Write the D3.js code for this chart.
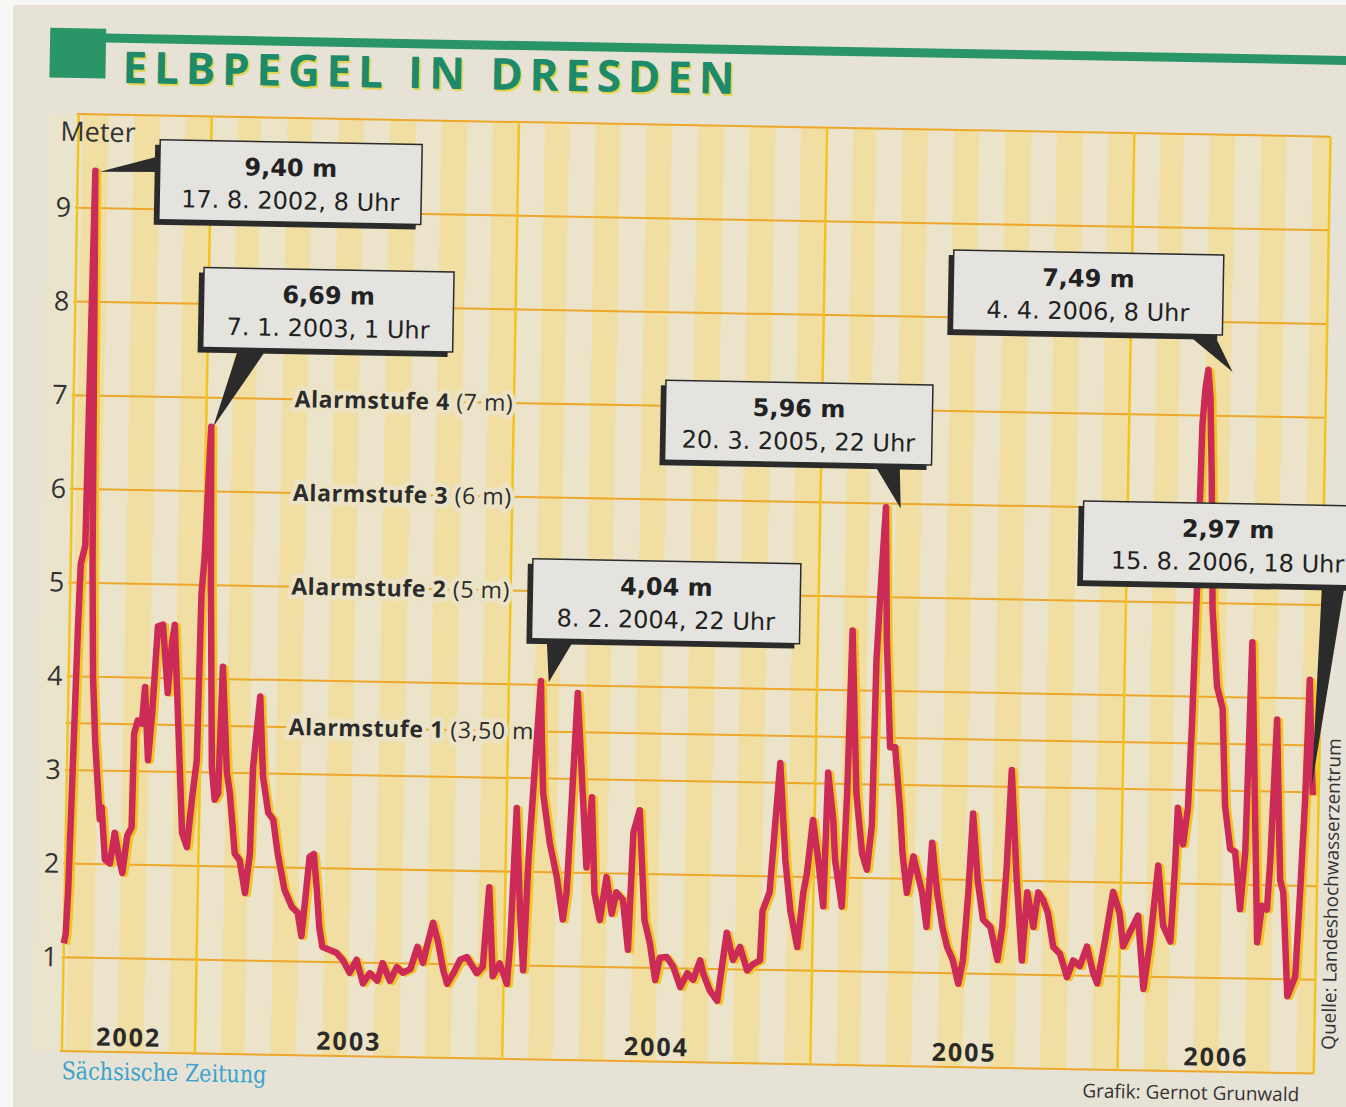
<!DOCTYPE html>
<html>
<head>
<meta charset="utf-8">
<script src="https://cdn.jsdelivr.net/npm/d3@7"></script>
<style>
body { margin: 0; background: #fff; }
svg { display: block; font-family: "Open Sans", sans-serif; }
</style>
</head>
<body>
<svg id="chart" width="1346" height="1107"></svg>
<script>
// Elbpegel Dresden, Juli 2002 - August 2006
var rangeStart = "2002-07-27";
var rangeEnd = "2006-08-22";

var dates = [
  "2002-07-27","2002-07-29","2002-07-31","2002-08-03","2002-08-06","2002-08-08","2002-08-13","2002-08-17","2002-08-22","2002-08-25","2002-08-29","2002-09-05","2002-09-07","2002-09-12","2002-09-18","2002-09-23","2002-09-29","2002-10-03","2002-10-08","2002-10-13","2002-10-14","2002-10-18","2002-10-23","2002-10-26","2002-10-31","2002-11-04","2002-11-09","2002-11-15","2002-11-22","2002-11-26","2002-11-29","2002-12-04","2002-12-12","2002-12-18","2002-12-23","2002-12-28","2002-12-30",
  "2003-01-02","2003-01-07","2003-01-10","2003-01-15","2003-01-19","2003-01-23","2003-01-26","2003-02-02","2003-02-06","2003-02-13","2003-02-19","2003-02-26","2003-03-03","2003-03-05","2003-03-12","2003-03-17","2003-03-24","2003-03-30","2003-04-05","2003-04-14","2003-04-23","2003-04-30","2003-05-05","2003-05-08","2003-05-13","2003-05-18","2003-05-22","2003-05-26","2003-05-30","2003-06-08","2003-06-16","2003-06-24","2003-07-02","2003-07-10","2003-07-18","2003-07-26","2003-08-04","2003-08-10","2003-08-19","2003-08-27","2003-09-03","2003-09-12","2003-09-20","2003-09-27","2003-10-01","2003-10-08","2003-10-14","2003-10-21","2003-10-26","2003-11-02","2003-11-10","2003-11-18","2003-11-22","2003-11-30","2003-12-07","2003-12-13","2003-12-19","2003-12-27",
  "2004-01-05","2004-01-08","2004-01-13","2004-01-19","2004-01-24","2004-01-28","2004-02-01","2004-02-08","2004-02-10","2004-02-13","2004-02-22","2004-03-02","2004-03-10","2004-03-14","2004-03-23","2004-03-31","2004-04-06","2004-04-11","2004-04-16","2004-04-23","2004-04-30","2004-05-07","2004-05-12","2004-05-20","2004-05-27","2004-05-31","2004-06-07","2004-06-15","2004-06-22","2004-06-29","2004-07-04","2004-07-12","2004-07-20","2004-07-29","2004-08-06","2004-08-13","2004-08-21","2004-08-25","2004-09-02","2004-09-11","2004-09-17","2004-09-21","2004-09-29","2004-10-07","2004-10-16","2004-10-23","2004-10-31","2004-11-02","2004-11-10","2004-11-15","2004-11-20","2004-11-28","2004-12-05","2004-12-14","2004-12-20","2004-12-24","2004-12-30",
  "2005-01-06","2005-01-13","2005-01-16","2005-01-23","2005-01-26","2005-02-04","2005-02-08","2005-02-11","2005-02-19","2005-02-27","2005-03-05","2005-03-10","2005-03-12","2005-03-16","2005-03-20","2005-03-24","2005-03-30","2005-04-05","2005-04-12","2005-04-16","2005-04-22","2005-04-29","2005-05-10","2005-05-16","2005-05-21","2005-05-28","2005-06-04","2005-06-10","2005-06-17","2005-06-24","2005-06-29","2005-07-04","2005-07-08","2005-07-15","2005-07-22","2005-07-31","2005-08-09","2005-08-14","2005-08-18","2005-08-22","2005-08-30","2005-09-07","2005-09-12","2005-09-20","2005-09-25","2005-10-01","2005-10-07","2005-10-14","2005-10-22","2005-10-31","2005-11-07","2005-11-15","2005-11-23","2005-12-01","2005-12-06","2005-12-14","2005-12-23","2005-12-31",
  "2006-01-05","2006-01-13","2006-01-22","2006-01-30","2006-02-06","2006-02-14","2006-02-21","2006-03-02","2006-03-06","2006-03-08","2006-03-15","2006-03-20","2006-03-23","2006-03-26","2006-03-29","2006-04-01","2006-04-04","2006-04-07","2006-04-10","2006-04-14","2006-04-21","2006-04-28","2006-05-03","2006-05-10","2006-05-16","2006-05-23","2006-05-28","2006-06-01","2006-06-07","2006-06-13","2006-06-18","2006-06-24","2006-06-27","2006-07-02","2006-07-09","2006-07-13","2006-07-20","2006-07-23","2006-07-29","2006-08-02","2006-08-06","2006-08-09","2006-08-12","2006-08-15"
];

var levels = [
  1.15,1.25,1.70,3.10,4.50,5.20,5.40,9.40,5.20,4.00,3.30,2.48,2.61,2.05,2.01,2.34,2.06,1.91,2.31,2.40,3.40,3.54,3.51,3.90,3.12,3.62,4.55,4.57,3.84,4.37,4.57,3.72,2.35,2.20,2.71,3.13,4.90,
  5.30,6.69,5.00,3.06,2.71,2.78,4.13,3.00,2.78,2.14,2.07,1.72,2.14,3.07,3.82,2.96,2.58,2.51,2.15,1.76,1.58,1.52,1.27,1.59,2.12,2.15,1.80,1.37,1.16,1.13,1.10,1.02,0.89,1.03,0.78,0.89,0.81,1.00,0.81,0.96,0.90,0.94,1.18,1.01,1.18,1.44,1.25,0.94,0.79,0.90,1.05,1.08,1.02,0.91,0.98,1.83,0.88,1.02,
  0.80,1.23,2.68,1.58,0.95,2.13,2.84,4.04,3.50,2.84,2.31,1.95,1.50,1.79,3.92,2.85,2.06,2.81,1.79,1.50,1.96,1.57,1.80,1.72,1.19,2.44,2.68,1.51,1.26,0.87,1.11,1.12,1.02,0.80,0.95,0.88,1.09,0.95,0.77,0.66,1.10,1.39,1.10,1.24,0.99,1.06,1.10,1.63,1.83,2.53,3.21,2.18,1.64,1.25,1.83,2.04,2.61,
  2.19,1.69,3.12,2.62,2.19,1.69,2.90,4.64,2.90,2.26,2.09,2.56,4.33,5.20,5.96,4.51,3.40,3.40,2.76,2.27,1.85,2.24,1.86,1.49,2.39,1.86,1.49,1.28,1.14,0.89,1.14,1.86,2.71,1.99,1.58,1.50,1.15,1.50,2.14,3.18,2.04,1.15,1.88,1.51,1.88,1.80,1.66,1.30,1.23,0.98,1.16,1.10,1.31,1.03,0.92,1.36,1.90,1.68,
  1.32,1.48,1.65,0.87,1.38,2.19,1.55,1.38,2.20,2.81,2.42,2.81,3.70,5.13,6.90,7.30,7.49,7.20,6.40,4.93,4.11,3.88,2.84,2.38,2.35,1.74,2.35,4.59,2.99,1.39,1.78,1.74,2.28,3.77,2.06,1.93,0.82,0.89,1.03,1.93,2.92,4.20,3.50,2.97
];

// annotated readings
var peakTimes = ["2002-08-17T08", "2003-01-07T01", "2004-02-08T22", "2005-03-20T22", "2006-04-04T08", "2006-08-15T18"];
var peakLevels = [9.40, 6.69, 4.04, 5.96, 7.49, 2.97];

var alarmLevels = [7, 6, 5, 3.5];
var alarmNames = ["Alarmstufe 4", "Alarmstufe 3", "Alarmstufe 2", "Alarmstufe 1"];
var alarmUnits = ["(7 m)", "(6 m)", "(5 m)", "(3,50 m)"];

var meterTicks = [1, 2, 3, 4, 5, 6, 7, 8, 9];
var yearStarts = ["2003-01-01", "2004-01-01", "2005-01-01", "2006-01-01"];
var yearLabels = ["2002", "2003", "2004", "2005", "2006"];

// callout layout, relative to the annotated point
var boxDx = [64, -10, -11, -223, -257, -235];
var boxDy = [-32, -159, -122, -123, -115, -290];
var boxW = [262, 250, 268, 267, 270, 290];
var tipDx = [4, 2, 7, 14, 24, -2];
var tipDy = [1, 0, 1, 1, 2, -8];
var baseA = [15, 37, 15, 207, 230, 240];
var baseB = [32, 67, 45, 235, 260, 263];

var parseDay = d3.utcParse("%Y-%m-%d");
var parseHour = d3.utcParse("%Y-%m-%dT%H");
var fmtLevel = function(v) { return d3.format(".2f")(v).replace(".", ",") + " m"; };
var fmtTime = d3.utcFormat("%-d. %-m. %Y, %-H Uhr");

var series = dates.map(function(d, i) { return {date: parseDay(d), level: levels[i]}; });

var svg = d3.select("#chart");

var x = d3.scaleUtc()
    .domain([parseDay(rangeStart), parseDay(rangeEnd)])
    .range([70, 1322]);
var y = d3.scaleLinear()
    .domain([0, 10])
    .range([1051, 114]);

// paper
svg.append("rect").attr("width", 1346).attr("height", 1107).attr("fill", "#f7f7f5");
svg.append("rect").attr("x", 13).attr("y", 5).attr("width", 1340).attr("height", 1110).attr("fill", "#e6e2d6");

// the scan is slightly skewed
var g = svg.append("g").attr("transform", "rotate(1.03,66,600)");

// title
g.append("rect").attr("x", 40).attr("y", 28).attr("width", 56).attr("height", 50).attr("fill", "#2a9566");
g.append("rect").attr("x", 95).attr("y", 33).attr("width", 1320).attr("height", 9).attr("fill", "#2a9566");
g.append("text")
    .attr("x", 115).attr("y", 84)
    .attr("textLength", 612).attr("lengthAdjust", "spacing")
    .attr("font-size", 44).attr("font-weight", 700)
    .attr("fill", "#e4d54e")
    .text("ELBPEGEL IN DRESDEN");
g.append("text")
    .attr("x", 113).attr("y", 82)
    .attr("textLength", 612).attr("lengthAdjust", "spacing")
    .attr("font-size", 44).attr("font-weight", 700)
    .attr("fill", "#1d8a6c")
    .text("ELBPEGEL IN DRESDEN");

// plot background with monthly stripes
g.append("rect")
    .attr("x", 40).attr("y", y(10))
    .attr("width", x.range()[1] - 40).attr("height", y(0) - y(10))
    .attr("fill", "#ebe4cc");

var months = d3.utcMonth.range(d3.utcMonth.floor(x.domain()[0]), x.domain()[1]);
g.selectAll(".stripe")
    .data(months)
    .enter().append("rect")
    .attr("class", "stripe")
    .attr("x", function(d) { return Math.max(x(d), x.range()[0]); })
    .attr("y", y(10))
    .attr("width", function(d) {
        var end = Math.min(x(d3.utcMonth.offset(d, 1)), x.range()[1]);
        return Math.max(0, end - Math.max(x(d), x.range()[0]));
    })
    .attr("height", y(0) - y(10))
    .attr("fill", function(d, i) { return i % 2 ? "#f0dea2" : "#ebe4cb"; });

// horizontal grid
var gridLevels = d3.range(0, 11).concat([3.5]);
g.selectAll(".hgrid")
    .data(gridLevels)
    .enter().append("line")
    .attr("class", "hgrid")
    .attr("x1", 68).attr("x2", x.range()[1])
    .attr("y1", function(d) { return y(d); })
    .attr("y2", function(d) { return y(d); })
    .attr("stroke", "#eda72a")
    .attr("stroke-width", 2);

// year boundaries
var vlines = [x.range()[0]].concat(yearStarts.map(function(d) { return x(parseDay(d)); }), [x.range()[1]]);
g.selectAll(".vgrid")
    .data(vlines)
    .enter().append("line")
    .attr("class", "vgrid")
    .attr("x1", function(d) { return d; })
    .attr("x2", function(d) { return d; })
    .attr("y1", y(10)).attr("y2", y(0))
    .attr("stroke", "#f2c41e")
    .attr("stroke-width", 2.5);

// y axis
var yAxis = g.append("g")
    .attr("transform", "translate(64,0)")
    .call(d3.axisLeft(y).tickValues(meterTicks).tickSize(0).tickPadding(0).tickFormat(d3.format("d")));
yAxis.select(".domain").remove();
yAxis.attr("font-family", null).attr("font-size", null);
yAxis.selectAll("text")
    .attr("font-size", 27)
    .attr("fill", "#333");

g.append("text")
    .attr("x", 52).attr("y", 141)
    .attr("font-size", 27)
    .attr("fill", "#333")
    .text("Meter");

// year labels
g.selectAll(".year")
    .data(yearLabels)
    .enter().append("text")
    .attr("class", "year")
    .attr("x", function(d) {
        var a = d3.max([x.domain()[0], parseDay(d + "-01-01")]);
        var b = d3.min([x.domain()[1], parseDay((+d + 1) + "-01-01")]);
        return (x(a) + x(b)) / 2;
    })
    .attr("y", 1045)
    .attr("text-anchor", "middle")
    .attr("font-size", 25)
    .attr("font-weight", 700)
    .attr("letter-spacing", 2)
    .attr("fill", "#2a2a2a")
    .text(function(d) { return d; });

// alarm levels
var alarm = g.selectAll(".alarm")
    .data(alarmLevels)
    .enter().append("text")
    .attr("class", "alarm")
    .attr("x", 291)
    .attr("y", function(d) { return y(d) + 8; })
    .attr("font-size", 23)
    .attr("letter-spacing", 0.6)
    .attr("fill", "#2b2b2b")
    .attr("stroke", "#ece3c6")
    .attr("stroke-width", 9)
    .attr("stroke-linejoin", "round")
    .style("paint-order", "stroke");
alarm.append("tspan")
    .attr("font-weight", 700)
    .text(function(d, i) { return alarmNames[i] + " "; });
alarm.append("tspan")
    .text(function(d, i) { return alarmUnits[i]; });

// gauge line
var line = d3.line()
    .x(function(d) { return x(d.date); })
    .y(function(d) { return y(d.level); });

g.append("path")
    .datum(series)
    .attr("d", line)
    .attr("transform", "translate(3,1)")
    .attr("fill", "none")
    .attr("stroke", "#f0c626")
    .attr("stroke-width", 6)
    .attr("stroke-linejoin", "round");
g.append("path")
    .datum(series)
    .attr("d", line)
    .attr("fill", "none")
    .attr("stroke", "#cc2b57")
    .attr("stroke-width", 6.5)
    .attr("stroke-linejoin", "round");

// callouts
peakTimes.forEach(function(t, i) {
    var px = x(parseHour(t)), py = y(peakLevels[i]);
    var bx = px + boxDx[i], by = py + boxDy[i], w = boxW[i], h = 80;
    var tx = px + tipDx[i], ty = py + tipDy[i];
    var pts;
    if (i === 0) {
        pts = [[bx + 4, by + baseA[i]], [bx + 4, by + baseB[i]], [tx, ty]];
    } else {
        pts = [[bx + baseA[i], by + h - 4], [bx + baseB[i], by + h - 4], [tx, ty]];
    }
    var c = g.append("g").attr("class", "callout");
    c.append("polygon")
        .attr("points", pts.map(function(p) { return p.join(","); }).join(" "))
        .attr("fill", "#2b2b2b");
    c.append("rect")
        .attr("x", bx - 5).attr("y", by + 5)
        .attr("width", w).attr("height", h)
        .attr("fill", "#2b2b2b");
    c.append("rect")
        .attr("x", bx).attr("y", by)
        .attr("width", w).attr("height", h)
        .attr("fill", "#e4e3df")
        .attr("stroke", "#2b2b2b")
        .attr("stroke-width", 1.5);
    c.append("text")
        .attr("x", bx + w / 2).attr("y", by + 34)
        .attr("text-anchor", "middle")
        .attr("font-family", "DejaVu Sans")
        .attr("font-size", 24).attr("font-weight", 700)
        .attr("fill", "#222")
        .text(fmtLevel(peakLevels[i]));
    c.append("text")
        .attr("x", bx + w / 2).attr("y", by + 67)
        .attr("text-anchor", "middle")
        .attr("font-family", "DejaVu Sans")
        .attr("font-size", 24)
        .attr("fill", "#222")
        .text(fmtTime(parseHour(t)));
});

// footer
g.append("text")
    .attr("x", 70).attr("y", 1079)
    .attr("textLength", 205).attr("lengthAdjust", "spacingAndGlyphs")
    .attr("font-family", "DejaVu Serif")
    .attr("font-size", 24)
    .attr("fill", "#3ba2cc")
    .text("Sächsische Zeitung");
g.append("text")
    .attr("x", 1091).attr("y", 1079)
    .attr("font-size", 19)
    .attr("fill", "#333")
    .text("Grafik: Gernot Grunwald");
g.append("text")
    .attr("transform", "translate(1343,1027) rotate(-90)")
    .attr("font-size", 19)
    .attr("fill", "#333")
    .text("Quelle: Landeshochwasserzentrum");
</script>
</body>
</html>
